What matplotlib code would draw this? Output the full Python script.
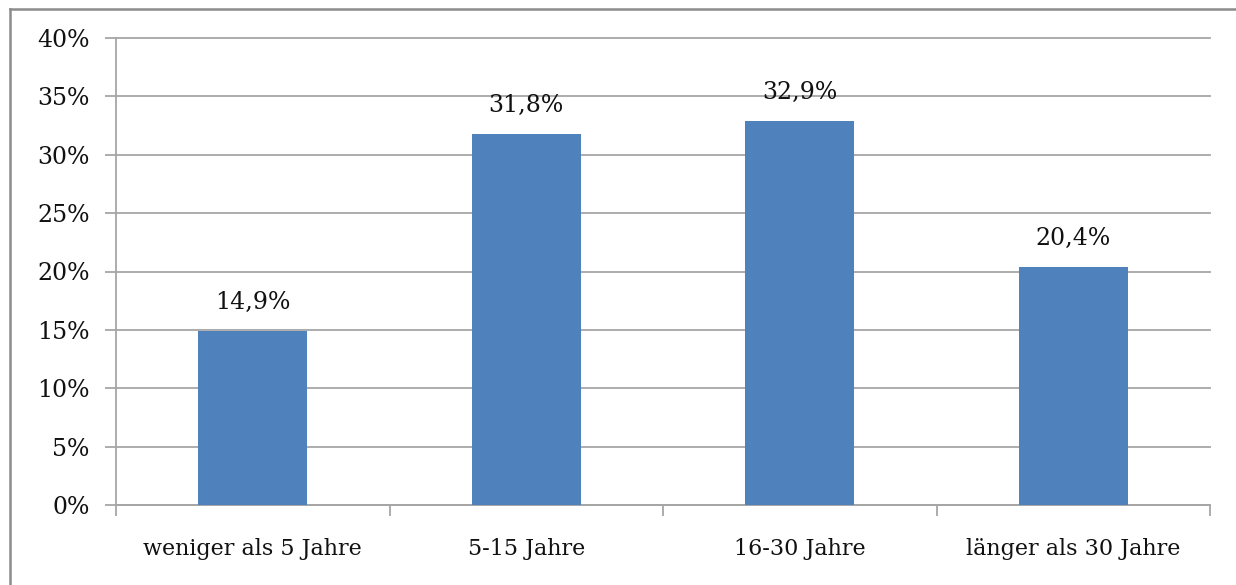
import matplotlib
matplotlib.use("Agg")
from matplotlib import pyplot as plt
from matplotlib.lines import Line2D
import numpy as np

categories = ["weniger als 5 Jahre", "5-15 Jahre", "16-30 Jahre", "länger als 30 Jahre"]
values = [14.9, 31.8, 32.9, 20.4]
yticks = [0, 5, 10, 15, 20, 25, 30, 35, 40]

W, H = 1236, 585
fig = plt.figure(figsize=(W / 100, H / 100), dpi=100)
plt.rcParams['font.family'] = ['DejaVu Serif']

# axes placed in pixel terms
left, right, top, bottom = 116, 1210, 38, 505
ax = fig.add_axes([left / W, 1 - bottom / H, (right - left) / W, (bottom - top) / H])

x = np.arange(len(categories))
ax.bar(x, values, width=0.4, color='#4F81BD', zorder=3)

for xi, v in zip(x, values):
    ax.annotate('{:.1f}%'.format(v).replace('.', ','), xy=(xi, v), xytext=(0, 12),
                textcoords='offset points', ha='center', va='bottom', fontsize=17, color='#111111')

ax.set_xlim(-0.5, len(categories) - 0.5)
ax.set_ylim(0, 40)
ax.set_yticks(yticks)
ax.set_yticklabels(['{}%'.format(t) for t in yticks])
ax.yaxis.grid(True, color='#a6a6a6', linewidth=1.3, zorder=0)
for gl in ax.get_ygridlines():
    gl.set_clip_on(False)

# category labels between boundary ticks
ax.set_xticks(np.arange(-0.5, len(categories), 1.0))
ax.set_xticklabels([])
ax.set_xticks(x, minor=True)
ax.set_xticklabels(categories, minor=True)
ax.tick_params(axis='x', which='major', length=8, width=1.3, color='#a6a6a6', direction='out')
ax.tick_params(axis='x', which='minor', length=0, pad=24, labelsize=16, labelcolor='#111111')
ax.tick_params(axis='y', length=8, width=1.3, color='#a6a6a6', pad=11, labelsize=17, labelcolor='#111111')

for s in ['top', 'right']:
    ax.spines[s].set_visible(False)
for s in ['left', 'bottom']:
    ax.spines[s].set_color('#a6a6a6')
    ax.spines[s].set_linewidth(1.3)

# outer chart border (top and left visible)
fig.add_artist(Line2D([10 / W, 1], [1 - 9 / H, 1 - 9 / H], color='#8c8c8c', linewidth=1.8))
fig.add_artist(Line2D([10 / W, 10 / W], [1 - 9 / H, 0], color='#8c8c8c', linewidth=1.8))

fig.savefig('out.png', dpi=100)
